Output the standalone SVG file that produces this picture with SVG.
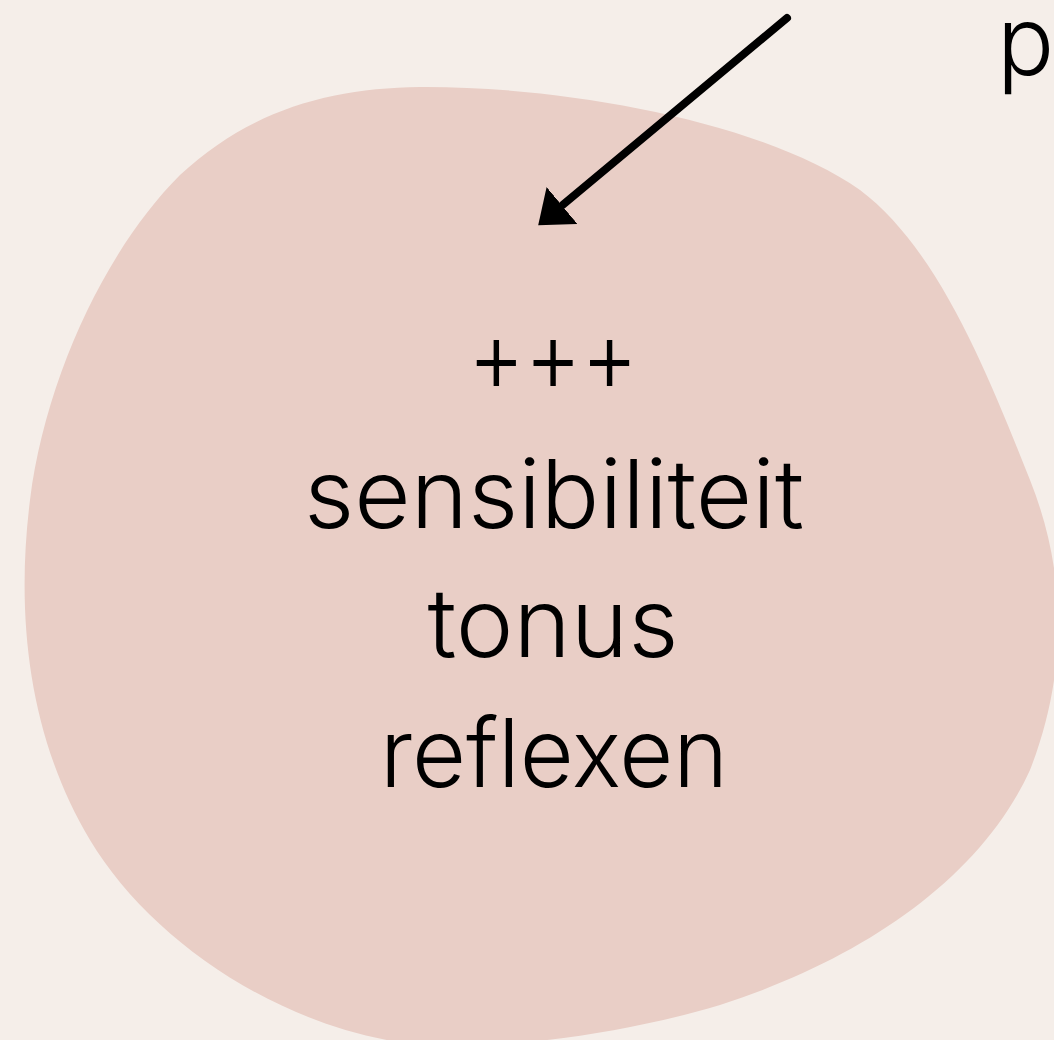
<svg xmlns="http://www.w3.org/2000/svg" width="1054" height="1040" viewBox="0 0 1054 1040">
  <style>
    .bg { fill: #F5EEE9; }
    .blob { fill: #E9CEC6; }
    .lbl { font-family: Inter, "Noto Sans", "Liberation Sans", sans-serif; font-weight: 300; font-size: 95px; fill: #000000; }
    .plus { font-size: 102px; }
    .conn { stroke: #000000; stroke-width: 8; stroke-linecap: round; fill: none; }
  </style>
  <defs>
    <marker id="arrowhead" markerUnits="userSpaceOnUse" markerWidth="32" markerHeight="48" viewBox="0 0 32 48" refX="0" refY="24" orient="auto">
      <path d="M0,0 L31,24 L0,48 Z" fill="#000000"/>
    </marker>
  </defs>
  <rect class="bg" x="0" y="0" width="1054" height="1040"/>
  <g id="blob-node">
    <path class="blob" d="M420,87 C560,86 760,120 860,190 C940,250 990,380 1030,480 C1070,580 1065,680 1030,770 C980,880 860,960 720,1005 C620,1035 500,1050 420,1045 C280,1030 150,940 90,840 C30,740 15,620 30,500 C45,380 105,250 180,175 C250,110 330,88 420,87 Z"/>
    <text class="lbl plus" x="553" y="392" text-anchor="middle" textLength="170" lengthAdjust="spacingAndGlyphs">+++</text>
    <text class="lbl" x="554" y="528" text-anchor="middle" textLength="500" lengthAdjust="spacingAndGlyphs">sensibiliteit</text>
    <text class="lbl" x="553" y="657" text-anchor="middle" textLength="251" lengthAdjust="spacingAndGlyphs">tonus</text>
    <text class="lbl" x="554" y="787" text-anchor="middle" textLength="348" lengthAdjust="spacingAndGlyphs">reflexen</text>
  </g>
  <g id="top-label">
    <text class="lbl" x="997" y="75">p</text>
  </g>
  <g id="connectors">
    <path class="conn" d="M787,18 L562,205.5" marker-end="url(#arrowhead)"/>
  </g>
</svg>
